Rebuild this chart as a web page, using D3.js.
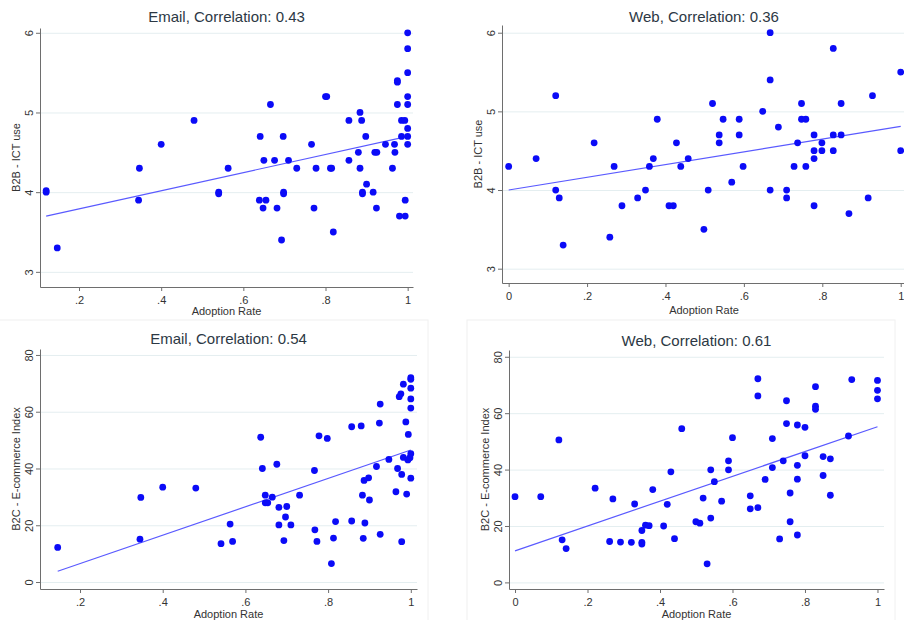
<!DOCTYPE html>
<html>
<head>
<meta charset="utf-8">
<script src="https://cdn.jsdelivr.net/npm/d3@7"></script>
<style>
  body { margin: 0; background: #fff; }
  svg { font-family: 'Liberation Sans', Arial, sans-serif; display: block; }
  .grid line { stroke: #e4eef0; }
  .axis path, .axis line { stroke: #6e6e6e; }
  .axis text { fill: #333; font-size: 11px; }
</style>
</head>
<body>
<div id="chart"></div>
<script>
// Email adoption vs B2B ICT use
const emailIctX = [0.12, 0.12, 0.147, 0.345, 0.347, 0.40, 0.48, 0.54, 0.54, 0.563,
  1.0, 1.0, 1.0, 0.975, 0.975, 1.0, 0.975, 1.0, 0.666, 0.80, 0.803,
  0.884, 0.857, 0.888, 0.985, 0.993, 1.0, 0.641, 0.697, 0.898, 0.985, 1.0,
  0.766, 0.946, 0.968, 1.0, 0.65, 0.676, 0.71, 0.857, 0.88, 0.92, 0.925, 0.969,
  0.73, 0.777, 0.812, 0.815, 0.884, 0.963, 0.90, 0.698, 0.698, 0.89, 0.89, 0.916,
  0.639, 0.655, 0.648, 0.682, 0.772, 0.924, 0.994, 0.98, 0.994, 0.819, 0.693];
const emailIctY = [4.0, 4.02, 3.3, 3.9, 4.3, 4.6, 4.9, 4.0, 3.98, 4.3,
  6.0, 5.8, 5.5, 5.4, 5.38, 5.2, 5.1, 5.1, 5.1, 5.2, 5.2,
  5.0, 4.9, 4.9, 4.9, 4.9, 4.8, 4.7, 4.7, 4.7, 4.7, 4.7,
  4.6, 4.6, 4.6, 4.6, 4.4, 4.4, 4.4, 4.4, 4.5, 4.5, 4.5, 4.5,
  4.3, 4.3, 4.3, 4.3, 4.3, 4.3, 4.1, 4.0, 3.98, 4.0, 3.98, 4.0,
  3.9, 3.9, 3.8, 3.8, 3.8, 3.8, 3.9, 3.7, 3.7, 3.5, 3.4];
const emailIctFitX = [0.12, 1.0];
const emailIctFitY = [3.70, 4.70];

// Web adoption vs B2B ICT use
const webIctX = [0, 0.07, 0.12, 0.12, 0.129, 0.139, 0.218, 0.258, 0.269, 0.289,
  0.329, 0.349, 0.359, 0.369, 0.379, 0.409, 0.42, 0.428, 0.439, 0.458,
  0.667, 0.828, 0.667, 1.0, 0.928, 0.52, 0.747, 0.848, 0.648, 0.547,
  0.588, 0.747, 0.758, 0.688, 0.537, 0.537, 0.588, 0.779, 0.828, 0.848,
  0.737, 0.799, 0.779, 0.799, 0.828, 1.0, 0.779, 0.598, 0.728, 0.758,
  0.569, 0.509, 0.667, 0.709, 0.709, 0.917, 0.779, 0.868, 0.498];
const webIctY = [4.3, 4.4, 5.2, 4.0, 3.9, 3.3, 4.6, 3.4, 4.3, 3.8,
  3.9, 4.0, 4.3, 4.4, 4.9, 3.8, 3.8, 4.6, 4.3, 4.4,
  6.0, 5.8, 5.4, 5.5, 5.2, 5.1, 5.1, 5.1, 5.0, 4.9,
  4.9, 4.9, 4.9, 4.8, 4.7, 4.6, 4.7, 4.7, 4.7, 4.7,
  4.6, 4.6, 4.5, 4.5, 4.5, 4.5, 4.4, 4.3, 4.3, 4.3,
  4.1, 4.0, 4.0, 4.0, 3.9, 3.9, 3.8, 3.7, 3.5];
const webIctFitX = [0, 1.0];
const webIctFitY = [4.0, 4.81];

// Email adoption vs B2C e-commerce index
const emailB2cX = [0.146, 0.345, 0.347, 0.40, 0.48, 0.541, 0.563, 0.569,
  1.0, 1.0, 0.982, 0.976, 0.972, 1.0, 1.0, 1.0, 0.926, 0.988, 0.857, 0.88,
  0.924, 0.994, 0.637, 0.778, 0.798, 1.0, 0.998, 0.982, 0.993, 0.947,
  0.917, 0.676, 0.641, 0.767, 0.968, 0.978, 1.0, 0.898, 0.887, 0.964,
  0.99, 0.883, 0.9, 0.648, 0.648, 0.654, 0.665, 0.731, 0.681, 0.7,
  0.697, 0.681, 0.71, 0.818, 0.857, 0.889, 0.768, 0.926, 0.693, 0.773,
  0.813, 0.885, 0.978, 0.808];
const emailB2cY = [12.2, 15.1, 29.8, 33.4, 33.1, 13.5, 20.4, 14.3,
  72.0, 71.4, 69.7, 66.3, 65.3, 68.3, 64.5, 61.3, 62.7, 56.4, 54.7, 55.0,
  56.0, 52.0, 51.0, 51.5, 50.6, 45.2, 43.8, 43.9, 43.0, 43.2,
  40.7, 41.5, 40.0, 39.3, 40.0, 37.9, 36.6, 36.7, 35.8, 31.8,
  31.0, 30.6, 28.9, 30.6, 27.9, 27.9, 29.9, 30.6, 26.3, 26.6,
  22.9, 20.1, 20.1, 21.3, 21.5, 20.8, 18.4, 16.8, 14.6, 14.3,
  15.5, 15.4, 14.2, 6.5];
const emailB2cFitX = [0.146, 1.0];
const emailB2cFitY = [3.8, 46.5];

// Web adoption vs B2C e-commerce index
const webB2cX = [0.0, 0.071, 0.121, 0.13, 0.141, 0.221, 0.261, 0.27, 0.291, 0.321,
  0.33, 0.35, 0.35, 0.35, 0.36, 0.37, 0.38, 0.41, 0.42, 0.43, 0.44, 0.46,
  0.67, 0.67, 0.929, 1.0, 1.0, 1.0, 0.829, 0.749, 0.829, 0.829, 0.749, 0.779,
  0.8, 0.6, 0.71, 0.92, 0.589, 0.589, 0.8, 0.85, 0.87, 0.74, 0.779, 0.71,
  0.54, 0.55, 0.69, 0.779, 0.85, 0.759, 0.87, 0.649, 0.519, 0.57, 0.649,
  0.67, 0.54, 0.499, 0.51, 0.759, 0.73, 0.779, 0.53];
const webB2cY = [30.4, 30.4, 50.5, 15.1, 12.0, 33.4, 14.5, 29.6, 14.3, 14.2,
  27.8, 14.2, 13.6, 18.4, 20.3, 20.1, 32.9, 20.0, 27.7, 39.2, 15.5, 54.5,
  72.2, 66.1, 71.9, 71.6, 68.1, 65.1, 69.4, 64.4, 62.5, 61.4, 56.3, 55.8,
  55.0, 51.3, 51.0, 51.9, 43.1, 39.9, 44.9, 44.6, 43.8, 43.1, 41.5, 40.7,
  39.9, 35.7, 36.5, 36.6, 37.9, 31.7, 30.9, 30.7, 29.9, 28.8, 26.1,
  26.5, 22.8, 21.5, 21.0, 21.5, 15.4, 16.8, 6.6];
const webB2cFitX = [0, 1.0];
const webB2cFitY = [11.2, 55.2];

const titles = ['Email, Correlation: 0.43', 'Web, Correlation: 0.36',
                'Email, Correlation: 0.54', 'Web, Correlation: 0.61'];
const xTitle = 'Adoption Rate';
const yTitles = ['B2B - ICT use', 'B2C - E-commerce Index'];
const xTicksEmail = [0.2, 0.4, 0.6, 0.8, 1];
const xTicksWeb = [0, 0.2, 0.4, 0.6, 0.8, 1];
const yTicksIct = [3, 4, 5, 6];
const yTicksB2c = [0, 20, 40, 60, 80];

const width = 904;
const height = 620;
const dotColor = '#0b0bf7';
const fitColor = '#5a5aff';
const titleColor = '#2c3844';

// layout of each plot region (pixels) and the value range it covers
const panels = [
  { xs: emailIctX, ys: emailIctY, fx: emailIctFitX, fy: emailIctFitY,
    left: 40, right: 413, top: 28, bottom: 287,
    xDomain: [0.105, 1.013], yDomain: [2.81, 6.06],
    xTicks: xTicksEmail, yTicks: yTicksIct,
    title: titles[0], titleY: 21.5, xTitleY: 315, yTitle: yTitles[0] },
  { xs: webIctX, ys: webIctY, fx: webIctFitX, fy: webIctFitY,
    left: 502, right: 906, top: 25, bottom: 283,
    xDomain: [-0.017, 1.0135], yDomain: [2.818, 6.098],
    xTicks: xTicksWeb, yTicks: yTicksIct,
    title: titles[1], titleY: 21.5, xTitleY: 314, yTitle: yTitles[0] },
  { xs: emailB2cX, ys: emailB2cY, fx: emailB2cFitX, fy: emailB2cFitY,
    left: 40, right: 417, top: 349, bottom: 589,
    xDomain: [0.1032, 1.015], yDomain: [-2.46, 82.1],
    xTicks: xTicksEmail, yTicks: yTicksB2c,
    title: titles[2], titleY: 343.5, xTitleY: 618, yTitle: yTitles[1] },
  { xs: webB2cX, ys: webB2cY, fx: webB2cFitX, fy: webB2cFitY,
    left: 509, right: 884, top: 350, bottom: 589,
    xDomain: [-0.0166, 1.018], yDomain: [-2.34, 82.4],
    xTicks: xTicksWeb, yTicks: yTicksB2c,
    title: titles[3], titleY: 346, xTitleY: 618, yTitle: yTitles[1] }
];

const svg = d3.select('#chart')
              .append('svg')
              .attr('width', width)
              .attr('height', height);

// faint frames of the two lower graphs
svg.append('rect')
   .attr('x', -1).attr('y', 320).attr('width', 429).attr('height', 310)
   .attr('fill', 'none').attr('stroke', '#f0f0f0');
svg.append('rect')
   .attr('x', 467).attr('y', 320).attr('width', 428).attr('height', 310)
   .attr('fill', 'none').attr('stroke', '#f0f0f0');

const fmtX = (d) => (d === 0 || d === 1) ? String(d) : String(d).replace(/^0/, '');

panels.forEach((p) => {
  const x = d3.scaleLinear().domain(p.xDomain).range([p.left, p.right]);
  const y = d3.scaleLinear().domain(p.yDomain).range([p.bottom, p.top]);
  const midX = (p.left + p.right) / 2;
  const midY = (p.top + p.bottom) / 2;

  // Y grid
  svg.append('g')
     .attr('class', 'grid')
     .attr('transform', `translate(${p.left}, 0)`)
     .call(d3.axisLeft(y)
             .tickValues(p.yTicks)
             .tickSize(-(p.right - p.left))
             .tickFormat(''))
     .call((g) => g.select('.domain').remove());

  // X axis
  svg.append('g')
     .attr('class', 'axis')
     .attr('transform', `translate(0, ${p.bottom})`)
     .call(d3.axisBottom(x)
             .tickValues(p.xTicks)
             .tickSizeInner(4)
             .tickSizeOuter(0)
             .tickPadding(5)
             .tickFormat(fmtX));

  // Y axis, labels turned on their side
  svg.append('g')
     .attr('class', 'axis')
     .attr('transform', `translate(${p.left}, 0)`)
     .call(d3.axisLeft(y)
             .tickValues(p.yTicks)
             .tickSizeInner(4)
             .tickSizeOuter(0)
             .tickFormat(d3.format('d')))
     .selectAll('text')
     .attr('x', 0)
     .attr('dy', 0)
     .attr('text-anchor', 'middle')
     .attr('transform', 'translate(-7, 0) rotate(-90)');

  // fitted line
  const fit = p.fx.map((v, i) => [v, p.fy[i]]);
  svg.append('path')
     .datum(fit)
     .attr('fill', 'none')
     .attr('stroke', fitColor)
     .attr('stroke-width', 1.2)
     .attr('d', d3.line().x((d) => x(d[0])).y((d) => y(d[1])));

  // points
  svg.append('g')
     .selectAll('circle')
     .data(p.xs.map((v, i) => [v, p.ys[i]]))
     .enter()
     .append('circle')
     .attr('cx', (d) => x(d[0]))
     .attr('cy', (d) => y(d[1]))
     .attr('r', 3.4)
     .attr('fill', dotColor);

  // titles
  svg.append('text')
     .attr('x', midX)
     .attr('y', p.titleY)
     .attr('text-anchor', 'middle')
     .attr('font-size', 15)
     .attr('fill', titleColor)
     .text(p.title);

  svg.append('text')
     .attr('x', midX)
     .attr('y', p.xTitleY)
     .attr('text-anchor', 'middle')
     .attr('font-size', 11)
     .attr('fill', '#333')
     .text(xTitle);

  svg.append('text')
     .attr('transform', `translate(${p.left - 20}, ${midY}) rotate(-90)`)
     .attr('text-anchor', 'middle')
     .attr('font-size', 11)
     .attr('fill', '#333')
     .text(p.yTitle);
});
</script>
</body>
</html>
